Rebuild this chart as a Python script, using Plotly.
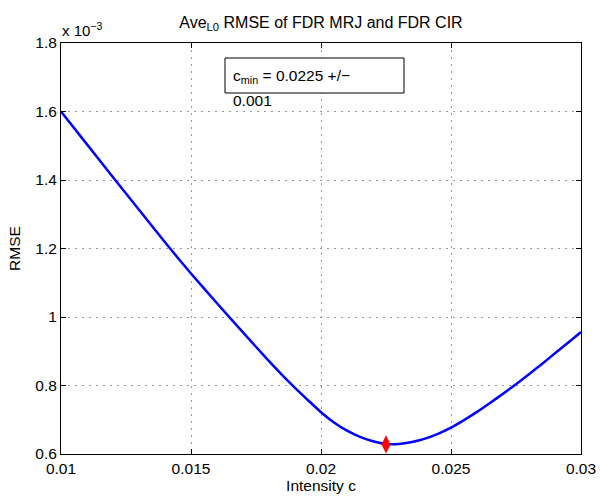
import plotly.graph_objects as go

# Intensity c and RMSE (in units of 1e-3)
intensity = [0.010, 0.011, 0.012, 0.013, 0.014, 0.015, 0.016, 0.017, 0.018, 0.0185,
             0.019, 0.0195, 0.020, 0.0205, 0.021, 0.0215, 0.022, 0.0225, 0.023, 0.0235,
             0.024, 0.0245, 0.025, 0.0255, 0.026, 0.0265, 0.027, 0.0275, 0.028, 0.0285,
             0.029, 0.0295, 0.030]
rmse_e3 = [1.600, 1.504, 1.408, 1.313, 1.218, 1.127, 1.040, 0.955, 0.871, 0.831,
           0.793, 0.757, 0.722, 0.692, 0.668, 0.650, 0.637, 0.629, 0.629, 0.635,
           0.645, 0.659, 0.677, 0.699, 0.723, 0.749, 0.776, 0.804, 0.833, 0.863,
           0.894, 0.925, 0.956]
c_min = [0.0225]
rmse_min = [0.628]

x_ticks = [0.01, 0.015, 0.02, 0.025, 0.03]
x_labels = ["0.01", "0.015", "0.02", "0.025", "0.03"]
y_ticks = [0.6, 0.8, 1.0, 1.2, 1.4, 1.6, 1.8]
y_labels = ["0.6", "0.8", "1", "1.2", "1.4", "1.6", "1.8"]

FONT = "Liberation Sans, Arial, Helvetica, sans-serif"
FS = 15.5

fig = go.Figure()
fig.add_trace(go.Scatter(x=intensity, y=rmse_e3, mode="lines",
                         line=dict(color="#0000ff", width=2.5, shape="spline", smoothing=0.6),
                         showlegend=False, hoverinfo="skip"))
fig.add_trace(go.Scatter(x=c_min, y=rmse_min, mode="markers",
                         marker=dict(symbol="diamond-tall", size=13, color="#ff0000",
                                     line=dict(width=0)),
                         showlegend=False))

axis_common = dict(showline=True, linecolor="black", linewidth=1, mirror="ticks",
                   ticks="inside", ticklen=5, tickcolor="black", automargin=False,
                   showgrid=True, gridcolor="#999999", griddash="2px,5px", gridwidth=1,
                   zeroline=False, tickfont=dict(family=FONT, size=FS, color="black"))

fig.update_xaxes(range=[0.01, 0.03], tickvals=x_ticks, ticktext=x_labels,
                 title=dict(text="Intensity c", font=dict(family=FONT, size=FS, color="black"),
                            standoff=4),
                 **axis_common)
fig.update_yaxes(range=[0.6, 1.8], tickvals=y_ticks, ticktext=y_labels,
                 title=dict(text="RMSE", font=dict(family=FONT, size=FS, color="black"),
                            standoff=10),
                 **axis_common)

fig.update_layout(
    width=600, height=497,
    margin=dict(l=61, r=19, t=43, b=43),
    plot_bgcolor="white", paper_bgcolor="white",
    title=dict(text="Ave<sub>L0</sub> RMSE of FDR MRJ and FDR CIR",
               font=dict(family=FONT, size=16, color="black"),
               x=(321 / 600), xanchor="center", y=1 - 22 / 497, yanchor="middle"),
    shapes=[dict(type="rect", xref="paper", yref="paper",
                 x0=(225 - 61) / 520, x1=(404 - 61) / 520,
                 y0=(454 - 93) / 411, y1=(454 - 58) / 411,
                 line=dict(color="black", width=1), fillcolor="white", layer="above")],
    annotations=[
        dict(text="x 10<sup>−3</sup>", xref="paper", yref="paper",
             x=(60 - 61) / 520, y=(454 - 29) / 411, xanchor="left", yanchor="middle",
             showarrow=False, font=dict(family=FONT, size=15, color="black")),
        dict(text="c<sub>min</sub> = 0.0225 +/−", xref="paper", yref="paper",
             x=(231 - 61) / 520, y=(454 - 76) / 411, xanchor="left", yanchor="middle",
             showarrow=False, font=dict(family=FONT, size=FS, color="black")),
        dict(text="0.001", xref="paper", yref="paper",
             x=(231 - 61) / 520, y=(454 - 100) / 411, xanchor="left", yanchor="middle",
             showarrow=False, font=dict(family=FONT, size=FS, color="black")),
    ],
)

fig.write_html("out.html")
